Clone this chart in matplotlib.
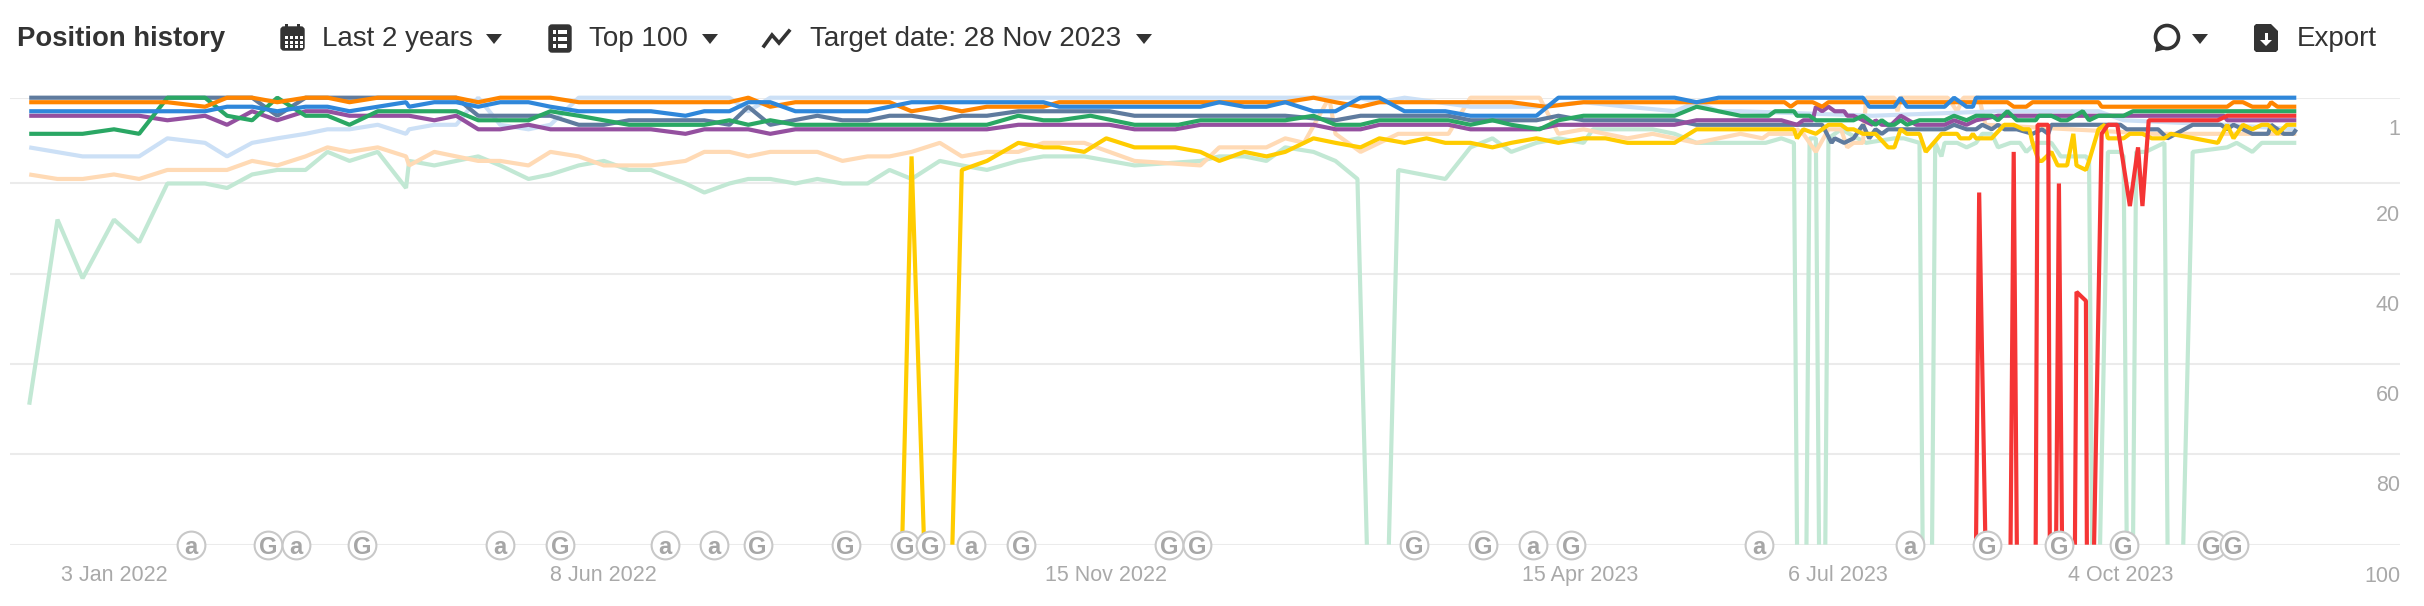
"""Position history chart: rank of ten pages over the last 2 years."""
import numpy as np
import matplotlib
matplotlib.use("Agg")
import matplotlib.pyplot as plt
from matplotlib.patches import Circle, FancyBboxPatch, Polygon, Rectangle

plt.rcParams["font.family"] = ["Liberation Sans", "DejaVu Sans"]
nan = np.nan

# x values are days since 3 Jan 2022, y values are positions (nan = not ranking)
TICK_DAYS = [0, 156, 316, 467, 549, 639]
TICK_LABELS = ["3 Jan 2022", "8 Jun 2022", "15 Nov 2022", "15 Apr 2023", "6 Jul 2023", "4 Oct 2023"]
POS_TICKS = [1, 20, 40, 60, 80, 100]

mint_days = [-27, -18, -10, 0, 8, 17, 29, 36, 44, 52, 61, 68, 75, 84, 93, 94, 102, 109, 116, 123, 132, 139, 148, 156,
             164, 171, 182, 188, 196, 202, 209, 217, 224, 232, 240, 247, 254, 263, 270, 278, 288, 296, 309, 325, 346,
             352, 360, 367, 373, 382, 389, 396, 399, 400, 406, 409, 424, 432, 439, 445, 453, 460, 468, 471, 475, 490,
             497, 504, 526, 531, 535, 536, 537, 539, 540, 542, 543, 544, 545, 546, 550, 558, 567, 570, 575, 576, 577,
             579, 580, 582, 583, 587, 590, 593, 595, 598, 600, 604, 607, 609, 612, 617, 620, 628, 629, 630, 631, 632.5,
             635, 639, 640, 641, 642, 643, 644, 647, 653, 654, 655, 659, 662, 673, 676, 681, 684, 695]
mint_pos = [69, 28, 41, 28, 33, 20, 20, 21, 18, 17, 17, 13, 15, 13, 21, 15, 16, 15, 14, 16, 19, 18, 16, 15,
            17, 17, 20, 22, 20, 19, 19, 20, 19, 20, 20, 17, 19, 15, 16, 17, 15, 14, 14, 16, 15,
            14, 14, 15, 12, 13, 15, 19, 100, nan, 100, 17, 19, 12, 10, 13, 11, 10, 11, 8, 8, 8,
            9, 11, 11, 10, 11, 100, nan, 100, 10, 10, 100, nan, 100, 10, 8, 11, 10, 10, 11, 100, nan,
            100, 11, 14, 11, 11, 12, 11, 9, 9, 12, 11, 11, 13, 11, 11, 14, 14, 15, 100, nan, 100,
            13, 13, 14, 100, nan, 100, 13, 13, 11, 100, nan, 100, 13, 12, 11, 13, 11, 11]

peach_days = [-27, -18, -10, 0, 8, 17, 36, 44, 52, 61, 68, 75, 84, 93, 94, 102, 109, 116, 123, 132, 139, 148, 156, 171,
              182, 188, 196, 202, 209, 224, 232, 240, 247, 254, 263, 270, 278, 288, 296, 309, 325, 346, 352, 367, 373,
              379, 387, 389, 397, 409, 425, 432, 454, 460, 468, 475, 482, 490, 497, 504, 518, 525, 527, 535, 536, 538,
              542, 546, 550, 552, 554, 557, 558, 567, 568, 569, 584, 587, 589, 594, 596, 650, 695]
peach_pos = [18, 19, 19, 18, 19, 17, 17, 15, 16, 14, 12, 13, 12, 14, 16, 13, 14, 15, 15, 16, 13, 14, 16, 16,
             15, 13, 13, 14, 13, 13, 15, 14, 14, 13, 11, 14, 13, 13, 11, 11, 15, 16, 12, 12, 10,
             11, 1, 9, 13, 9, 9, 1, 1, 9, 8, 9, 10, 9, 10, 11, 9, 10, 9, 9, 8, 9,
             13, 8, 8, 12, 11, 11, 1, 1, 4, 1, 1, 4, 1, 1, 7, 9, 9]

light_days = [-27, -10, 8, 17, 29, 36, 44, 52, 61, 68, 75, 84, 93, 94, 102, 109, 116, 123, 132, 139, 148, 196, 202, 209,
              396, 403, 411, 432, 453, 468, 482, 497, 504, 511, 518, 560, 600, 632, 640, 672, 695]
light_pos = [12, 14, 14, 10, 11, 14, 11, 10, 9, 8, 8, 7, 9, 8, 7, 7, 1, 7, 8, 7, 1, 1, 4, 1,
             1, 2, 1, 3, 3, 2, 3, 4, 2, 4, 4, 5, 4, 4, 6, 7, 8]

slate_days = [-27, 44, 52, 61, 109, 116, 139, 148, 156, 164, 188, 196, 202, 209, 224, 232, 240, 247, 254, 263, 270, 278,
              288, 317, 325, 373, 389, 397, 425, 432, 453, 460, 468, 497, 504, 544, 547, 548, 551, 554, 557, 559, 561,
              563, 565, 583, 586, 590, 593, 595, 598, 600, 602, 606, 611, 614, 616, 617, 639, 641, 651, 654, 662, 671,
              673, 675, 678, 681, 686, 687, 691, 694, 695]
slate_pos = [1, 1, 5, 1, 1, 5, 5, 7, 7, 6, 6, 7, 3, 7, 5, 6, 6, 5, 5, 6, 5, 5,
             4, 4, 5, 5, 6, 5, 5, 6, 6, 5, 6, 6, 7, 7, 11, 10, 11, 10, 7, 10, 8,
             9, 8, 8, 7, 8, 8, 7, 8, 7, 8, 8, 9, 8, 9, 7, 7, 8, 8, 10, 7, 7,
             8, 7, 8, 9, 9, 7, 9, 9, 8]

purple_days = [-27, 8, 17, 29, 36, 44, 52, 61, 68, 75, 94, 102, 109, 116, 123, 132, 139, 171, 182, 188, 202, 209, 217,
               278, 288, 317, 325, 338, 346, 382, 389, 397, 403, 425, 432, 453, 460, 497, 504, 531, 536, 538, 541, 542,
               544, 546, 548, 551, 552, 554, 557, 560, 561, 563, 566, 569, 574, 583, 586, 590, 593, 600, 672, 673, 695]
purple_pos = [5, 5, 6, 5, 7, 4, 6, 4, 4, 5, 5, 6, 5, 8, 8, 7, 8, 8, 9, 8, 8, 9, 8,
              8, 7, 7, 8, 8, 7, 7, 8, 8, 7, 7, 8, 8, 7, 7, 6, 6, 7, 6, 6, 3,
              4, 3, 4, 4, 5, 5, 6, 7, 6, 7, 7, 5, 7, 7, 6, 7, 6, 5, 5, 6, 6]

green_days = [-27, -10, 0, 8, 17, 29, 36, 44, 52, 61, 68, 75, 84, 109, 116, 132, 139, 148, 156, 164, 188, 196, 202, 209,
              217, 278, 288, 296, 301, 311, 325, 339, 346, 373, 382, 389, 397, 403, 425, 432, 439, 445, 454, 460, 468,
              497, 504, 518, 527, 529, 535, 536, 540, 542, 554, 557, 559, 561, 563, 565, 567, 569, 571, 575, 583, 586,
              590, 593, 598, 600, 603, 606, 612, 613, 617, 620, 622, 627, 629, 632, 640, 643, 695]
green_pos = [9, 9, 8, 9, 1, 1, 5, 6, 1, 5, 5, 7, 4, 4, 6, 6, 4, 5, 6, 7, 7, 6, 7, 6,
             7, 7, 5, 6, 6, 5, 7, 7, 6, 6, 5, 7, 7, 6, 6, 7, 6, 7, 8, 6, 5,
             5, 3, 5, 5, 4, 4, 5, 5, 6, 6, 5, 6, 7, 6, 7, 7, 6, 7, 6, 6, 5,
             6, 5, 5, 6, 4, 6, 6, 5, 5, 6, 6, 4, 6, 5, 5, 4, 4]

orange_days = [-27, 17, 29, 36, 44, 52, 61, 68, 75, 84, 109, 116, 123, 139, 148, 196, 202, 209, 217, 247, 254, 263, 270,
               278, 296, 301, 373, 382, 389, 397, 403, 445, 456, 468, 532, 534, 536, 541, 544, 546, 603, 605, 609, 611,
               632, 633, 673, 675, 678, 681, 686, 687, 689, 695]
orange_pos = [2, 2, 3, 1, 1, 2, 1, 1, 2, 1, 1, 2, 1, 1, 2, 2, 1, 3, 2, 2, 4, 3, 4,
              3, 3, 2, 2, 1, 2, 3, 2, 2, 3, 2, 2, 3, 2, 2, 3, 2, 2, 3, 3, 2,
              2, 3, 3, 2, 2, 3, 3, 2, 3, 3]

blue_days = [-27, 29, 36, 44, 52, 61, 68, 75, 84, 93, 94, 102, 109, 116, 123, 132, 139, 148, 171, 182, 188, 196, 202,
             209, 217, 240, 254, 296, 301, 346, 352, 360, 367, 373, 382, 389, 397, 403, 411, 424, 432, 453, 460, 497,
             504, 511, 557, 559, 567, 569, 571, 583, 586, 590, 592, 593, 695]
blue_pos = [4, 4, 3, 3, 4, 3, 3, 4, 3, 2, 3, 2, 2, 3, 2, 2, 3, 4, 4, 5, 4, 4, 2,
            2, 4, 4, 2, 2, 3, 3, 2, 3, 3, 2, 4, 4, 1, 1, 4, 4, 5, 5, 1, 1,
            2, 1, 1, 3, 3, 1, 3, 3, 1, 3, 3, 1, 1]

yellow_days = [251, 254, 258, 262, 267, 270, 278, 288, 296, 301, 309, 316, 325, 338, 346, 352, 360, 367, 373, 382, 389,
               397, 403, 411, 418, 424, 432, 439, 445, 453, 460, 468, 475, 482, 497, 504, 535, 536, 538, 542, 546, 550,
               552, 554, 557, 561, 565, 567, 569, 571, 575, 577, 582, 587, 588, 591, 592, 593, 598, 602, 605, 608, 610,
               611, 613, 614, 617, 619, 622, 624, 625, 628, 629, 632, 634, 635, 640, 642, 646, 649, 653, 655, 670, 673,
               675, 678, 681, 684, 686, 689, 692, 695]
yellow_pos = [100, 14, 100, nan, 100, 17, 15, 11, 12, 12, 13, 10, 12, 12, 13, 15, 13, 14, 13, 10, 11,
              12, 10, 11, 10, 11, 11, 12, 11, 10, 11, 10, 10, 11, 11, 8, 8, 10, 8, 9, 7, 7,
              8, 8, 9, 9, 12, 12, 8, 9, 9, 13, 9, 9, 10, 10, 9, 10, 10, 7, 7, 8, 8,
              11, 15, 15, 13, 16, 16, 9, 16, 17, 15, 8, 7, 10, 10, 9, 9, 10, 10, 9, 11, 7,
              10, 7, 8, 7, 7, 9, 7, 7]

red_days = [593, 594, 596, 600, 604, 605, 606, 609, 612, 612.6, 616, 616.5, 617, 618.5, 619.4, 620.4, 622, 624.5, 625,
            628, 628.3, 629, 630.6, 633, 635, 638, 642, 644.6, 646, 648, 670, 673, 695]
red_pos = [100, 22, 100, nan, 100, 13, 100, nan, 100, 7, 7, 100, nan, 100, 20, 100, nan, 100, 44,
           46, 100, nan, 100, 9, 7, 7, 25, 12, 25, 6, 6, 5, 5]

# annotation badges along the bottom axis
badge_days = [24.5, 49, 58, 79, 123, 142, 175.5, 191, 205, 233, 252, 260, 273, 289, 336, 345, 414, 436, 452, 464,
              524, 572, 596.5, 619.5, 640, 668, 675]
badge_kinds = ["a", "G", "a", "G", "a", "G", "a", "a", "G", "G", "G", "G", "a", "G", "G", "G", "G", "G", "a", "G",
               "a", "a", "G", "G", "G", "G", "G"]

W, H = 2424, 606
GRID = "#ebebeb"
MUTED = "#a9a9a9"
DARK = "#333333"

fig = plt.figure(figsize=(W / 100, H / 100), dpi=100, facecolor="white")

# ---------- chart -------------------------------------------------------
x0, x1, y_top, y_bot = 10, 2400, 97.7, 544.7
ax = fig.add_axes([x0 / W, 1 - y_bot / H, (x1 - x0) / W, (y_bot - y_top) / H])
ax.set_xlim((x0 - 114) / 3.14, (x1 - 114) / 3.14)
ax.set_ylim(100, 1)
for s in ax.spines.values():
    s.set_visible(False)
ax.set_yticks(POS_TICKS)
ax.set_yticklabels([])
ax.grid(axis="y", color=GRID, lw=1.5)
ax.set_axisbelow(True)
ax.set_xticks(TICK_DAYS)
ax.set_xticklabels(TICK_LABELS, fontsize=15.5, color=MUTED)
ax.tick_params(axis="both", length=0)
ax.tick_params(axis="x", pad=14.5)

for v in POS_TICKS:
    ax.annotate(str(v), (1, v), xycoords=ax.get_yaxis_transform(), xytext=(0, -22.7),
                textcoords="offset points", ha="right", va="center", fontsize=15.5, color=MUTED)

series = [
    (mint_days, mint_pos, "#c2e8d4"),
    (peach_days, peach_pos, "#ffdab5"),
    (light_days, light_pos, "#cce0f6"),
    (slate_days, slate_pos, "#5f7b9e"),
    (purple_days, purple_pos, "#94509f"),
    (green_days, green_pos, "#2aa764"),
    (orange_days, orange_pos, "#ff8500"),
    (blue_days, blue_pos, "#2f87da"),
    (yellow_days, yellow_pos, "#ffcc00"),
    (red_days, red_pos, "#f53535"),
]
for i, (xs, ys, c) in enumerate(series):
    ax.plot(xs, ys, color=c, lw=3.0, clip_on=False, solid_joinstyle="bevel",
            solid_capstyle="butt", zorder=3 + i * 0.1)

ax.plot(badge_days, [100] * len(badge_days), ls="none", marker="o", ms=20, mfc="white",
        mec="#c8c8c8", mew=1.5, clip_on=False, zorder=5)
for d, k in zip(badge_days, badge_kinds):
    ax.text(d, 100, k, ha="center", va="center_baseline", fontsize=17, fontweight="bold", color="#a6a6a6",
            clip_on=False, zorder=6)

# ---------- header bar (drawn in pixel coordinates) ---------------------
top = fig.add_axes([0, 0, 1, 1], facecolor="none")
top.set_xlim(0, W)
top.set_ylim(H, 0)
top.axis("off")

top.text(17, 39, "Position history", fontsize=19.8, fontweight="bold", color=DARK, va="center")
top.text(322, 39, "Last 2 years", fontsize=20, color=DARK, va="center")
top.text(589, 39, "Top 100", fontsize=20, color=DARK, va="center")
top.text(810, 39, "Target date: 28 Nov 2023", fontsize=20, color=DARK, va="center")
top.text(2297, 39, "Export", fontsize=20, color=DARK, va="center")

for cx in (494, 710, 1144, 2200):
    top.add_patch(Polygon([(cx - 8, 34), (cx + 8, 34), (cx, 44)], color=DARK, lw=0))

# calendar
top.add_patch(FancyBboxPatch((281, 27), 23, 23, boxstyle="round,pad=0,rounding_size=3", fc=DARK, ec=DARK))
for px in (285, 297):
    top.add_patch(Rectangle((px, 24), 3, 6, fc=DARK, ec="none"))
for gy in (36, 41, 45):
    for gx in (285, 290, 295, 300):
        top.add_patch(Rectangle((gx, gy), 3, 3, fc="white", ec="none"))

# list
top.add_patch(FancyBboxPatch((549, 25), 22, 27, boxstyle="round,pad=0,rounding_size=3", fc=DARK, ec=DARK))
for gy in (30, 37, 44):
    top.add_patch(Rectangle((553, gy), 3, 3.5, fc="white", ec="none"))
    top.add_patch(Rectangle((558, gy), 9, 3.5, fc="white", ec="none"))

# trend line
top.plot([764, 772, 779, 789], [46, 35, 43, 31], color=DARK, lw=2.6, solid_joinstyle="miter")

# comment bubble
top.add_patch(Circle((2167, 37), 11.5, fc="none", ec=DARK, lw=2.6))
top.add_patch(Polygon([(2155, 52), (2157, 41), (2166, 49)], color=DARK, lw=0))

# export file
top.add_patch(Polygon([(2256, 24), (2271, 24), (2278, 31), (2278, 50), (2276, 52), (2256, 52), (2254, 50), (2254, 26)],
                      color=DARK, lw=0))
top.add_patch(Rectangle((2264.5, 33), 3, 9, fc="white", ec="none"))
top.add_patch(Polygon([(2260, 40), (2272, 40), (2266, 46)], color="white", lw=0))

fig.savefig("out.png", dpi=100, facecolor="white")
